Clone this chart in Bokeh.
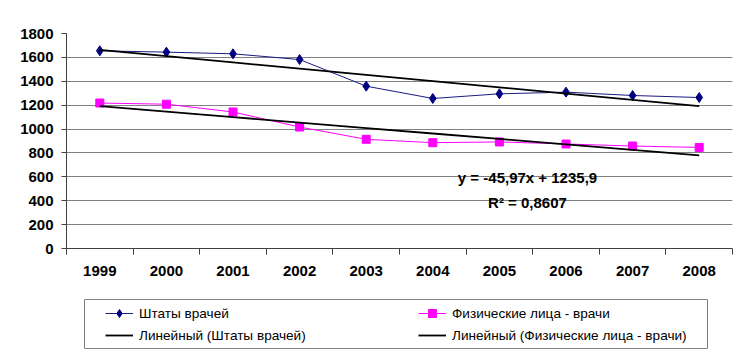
import numpy as np
from bokeh.plotting import figure
from bokeh.layouts import column
from bokeh.models import Legend, LegendItem, FixedTicker, Label, BoxAnnotation
from bokeh.embed import file_html
from bokeh.resources import INLINE

years = [1999, 2000, 2001, 2002, 2003, 2004, 2005, 2006, 2007, 2008]
shtaty = [1655, 1644, 1630, 1582, 1359, 1256, 1295, 1309, 1281, 1264]
fiz = [1218, 1208, 1143, 1017, 914, 886, 892, 875, 858, 846]
y_ticks = [0, 200, 400, 600, 800, 1000, 1200, 1400, 1600, 1800]
names = ["Штаты врачей", "Физические лица - врачи",
         "Линейный (Штаты врачей)", "Линейный (Физические лица - врачи)"]
eq_text = "y = -45,97x + 1235,9"
r2_text = "R² = 0,8607"

FONT = "Liberation Sans"
BLUE = "#000080"
BLUE_LINE = "#1a1a80"
PINK = "#FF00FF"

p = figure(width=742, height=290, x_range=(1998.5, 2008.5), y_range=(0, 1800),
           output_backend="svg", toolbar_location=None,
           min_border_left=66, min_border_right=10, min_border_top=33, min_border_bottom=42)
p.outline_line_color = None
p.xgrid.visible = False
p.ygrid.grid_line_color = "#808080"
p.ygrid.grid_line_width = 1

p.yaxis.ticker = FixedTicker(ticks=y_ticks)
p.yaxis.minor_tick_line_color = None
p.yaxis.major_tick_out = 5
p.yaxis.major_tick_in = 0
p.yaxis.major_label_standoff = 8
p.yaxis.axis_line_color = "#404040"
p.yaxis.major_tick_line_color = "#404040"

bounds = [y - 0.5 for y in years] + [years[-1] + 0.5]
p.xaxis.ticker = FixedTicker(ticks=years, minor_ticks=bounds)
p.xaxis.major_label_overrides = {y: str(y) for y in years}
p.xaxis.major_tick_line_color = None
p.xaxis.major_tick_out = 0
p.xaxis.major_tick_in = 0
p.xaxis.minor_tick_out = 6
p.xaxis.minor_tick_in = 0
p.xaxis.minor_tick_line_color = "#404040"
p.xaxis.axis_line_color = "#404040"
p.xaxis.major_label_standoff = 11

for ax in (p.xaxis, p.yaxis):
    ax.major_label_text_font = FONT
    ax.major_label_text_font_size = "15px"
    ax.major_label_text_font_style = "bold"
    ax.major_label_text_color = "black"

idx = np.arange(1, len(years) + 1)
k1, b1 = np.polyfit(idx, shtaty, 1)
k2, b2 = np.polyfit(idx, fiz, 1)
trend1 = list(k1 * idx + b1)
trend2 = list(k2 * idx + b2)

p.line(years, shtaty, line_color=BLUE_LINE, line_width=1)
p.scatter(years, shtaty, marker="diamond", size=10, fill_color=BLUE, line_color=BLUE)
p.line(years, fiz, line_color=PINK, line_width=1)
p.scatter(years, fiz, marker="square", size=8, fill_color=PINK, line_color=PINK)
p.line(years, trend1, line_color="black", line_width=1.8)
p.line(years, trend2, line_color="black", line_width=1.8)

eq_style = dict(x_units="screen", y_units="screen", text_align="center", text_baseline="middle",
                text_font=FONT, text_font_size="15px", text_font_style="bold", text_color="black")
p.add_layout(Label(x=461, y=71, text=eq_text, **eq_style))
p.add_layout(Label(x=461, y=46, text=r2_text, **eq_style))

# legend strip: a second figure aligned with the first
lg = figure(width=742, height=63, x_range=(0, 1), y_range=(0, 1),
            x_axis_type=None, y_axis_type=None,
            output_backend="svg", toolbar_location=None,
            min_border_left=66, min_border_right=10, min_border_top=0, min_border_bottom=0)
lg.outline_line_color = None
lg.grid.visible = False

lg.add_layout(BoxAnnotation(left=18, right=641, bottom=5, top=54,
                            left_units="screen", right_units="screen",
                            bottom_units="screen", top_units="screen",
                            fill_alpha=0, line_color="#808080", line_width=1, line_alpha=1))

nan2 = [np.nan, np.nan]
pl1 = lg.line(nan2, nan2, line_color=BLUE_LINE, line_width=1)
ps1 = lg.scatter(nan2, nan2, marker="diamond", size=10, fill_color=BLUE, line_color=BLUE)
pl2 = lg.line(nan2, nan2, line_color=PINK, line_width=1)
ps2 = lg.scatter(nan2, nan2, marker="square", size=8, fill_color=PINK, line_color=PINK)
pt1 = lg.line(nan2, nan2, line_color="black", line_width=1.8)
pt2 = lg.line(nan2, nan2, line_color="black", line_width=1.8)

leg = Legend(items=[LegendItem(label=names[0], renderers=[pl1, ps1]),
                    LegendItem(label=names[2], renderers=[pt1]),
                    LegendItem(label=names[1], renderers=[pl2, ps2]),
                    LegendItem(label=names[3], renderers=[pt2])],
             ncols=2, orientation="vertical", location=(39, 8),
             glyph_width=28, glyph_height=20, label_height=20, label_width=277,
             label_standoff=6, spacing=2, padding=0, margin=0,
             border_line_color=None, background_fill_alpha=0,
             label_text_font=FONT, label_text_font_size="13.6px", label_text_color="black")
lg.add_layout(leg, "center")

layout = column(p, lg, spacing=0)
open("out.html", "w").write(file_html(layout, INLINE))
